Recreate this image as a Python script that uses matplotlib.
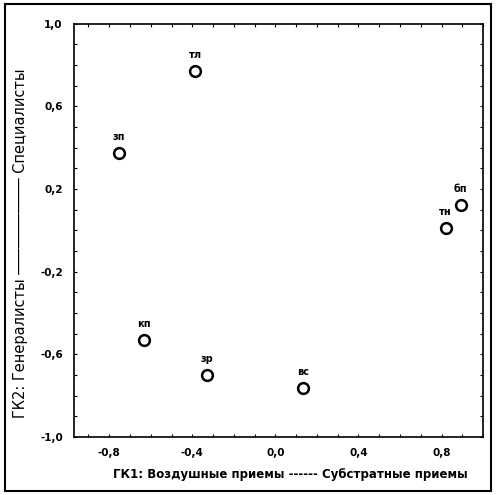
import matplotlib
matplotlib.use("Agg")
import matplotlib.pyplot as plt
from matplotlib.patches import Rectangle
from matplotlib.ticker import MultipleLocator, FuncFormatter

# point labels and coordinates
labels = ["тл", "зп", "бп", "тн", "кп", "зр", "вс"]
gk1 = [-0.386, -0.752, 0.892, 0.819, -0.631, -0.328, 0.135]
gk2 = [0.772, 0.375, 0.123, 0.012, -0.530, -0.700, -0.763]

x_ticks = [-0.8, -0.4, 0.0, 0.4, 0.8]
y_ticks = [1.0, 0.6, 0.2, -0.2, -0.6, -1.0]

fig = plt.figure(figsize=(4.96, 4.95), dpi=100)
ax = fig.add_axes([0.149, 0.117, 0.825, 0.835])

ax.scatter(gk1, gk2, s=60, facecolors="white", edgecolors="black", linewidths=1.8, zorder=3)
for name, xv, yv in zip(labels, gk1, gk2):
    ax.annotate(name, (xv, yv), xytext=(0, 8), textcoords="offset points",
                ha="center", va="bottom", fontsize=7, fontweight="bold")

ax.set_xlim(-0.97, 1.0)
ax.set_ylim(-1.0, 1.0)
ax.set_xticks(x_ticks)
ax.set_yticks(y_ticks)
ax.xaxis.set_minor_locator(MultipleLocator(0.1))
ax.yaxis.set_minor_locator(MultipleLocator(0.1))
fmt = FuncFormatter(lambda v, p: f"{v:.1f}".replace(".", ",").replace("-0,0", "0,0"))
ax.xaxis.set_major_formatter(fmt)
ax.yaxis.set_major_formatter(fmt)
ax.tick_params(which="both", direction="in", length=2, width=0.8, top=True, right=True)
ax.tick_params(which="major", labelsize=7.5, pad=8)
for lab in ax.get_xticklabels() + ax.get_yticklabels():
    lab.set_fontweight("bold")
for sp in ax.spines.values():
    sp.set_linewidth(1.2)

ax.set_xlabel("ГК1: Воздушные приемы ------ Субстратные приемы",
              fontsize=8.5, fontweight="bold")
ax.xaxis.set_label_coords(0.53, -0.075)
ax.set_ylabel("ГК2: Генералисты " + "\u2500" * 11 + " Специалисты", fontsize=10.5)
ax.yaxis.set_label_coords(-0.112, 0.47)

# outer frame around the whole picture
fig.patches.append(Rectangle((0.011, 0.008), 0.978, 0.984, transform=fig.transFigure,
                             fill=False, edgecolor="black", linewidth=1.5))

fig.savefig("out.png", dpi=100)
